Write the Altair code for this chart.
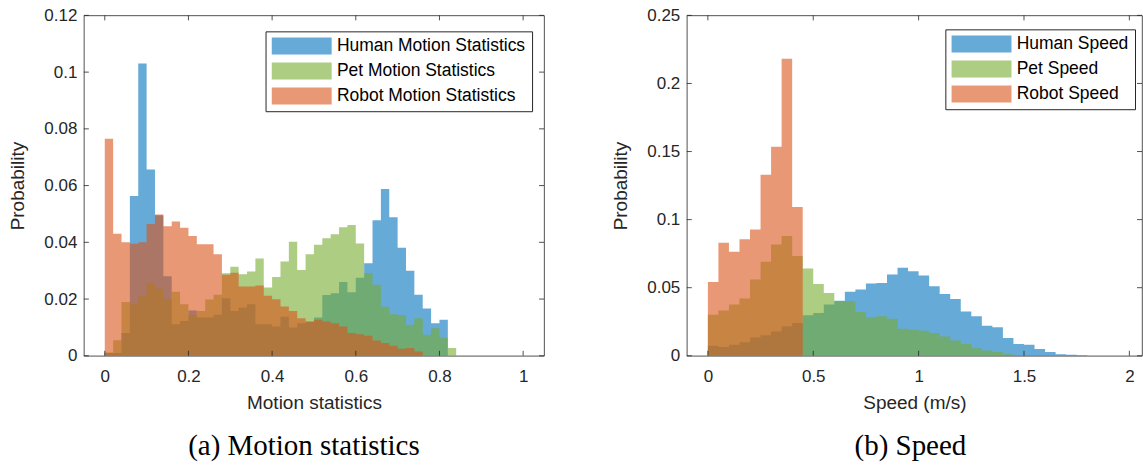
import altair as alt
import pandas as pd

# ---------------- data ----------------
motion_bin_width = 0.02
motion_series = ["Human Motion Statistics", "Pet Motion Statistics", "Robot Motion Statistics"]
motion_human = [0.001, 0.001, 0.008, 0.0563, 0.103, 0.0657, 0.0495, 0.028, 0.0111, 0.0123,
                0.016, 0.0135, 0.0135, 0.0145, 0.0203, 0.0158, 0.017, 0.0182, 0.0111, 0.0111,
                0.0103, 0.0138, 0.0100, 0.0115, 0.012, 0.0135, 0.0214, 0.022, 0.026, 0.0224,
                0.0275, 0.0326, 0.0478, 0.0588, 0.0488, 0.0381, 0.030, 0.0215, 0.0167, 0.0115,
                0.0127, 0.0]
motion_pet = [0.0012, 0.0055, 0.019, 0.0182, 0.021, 0.0257, 0.0236, 0.0199, 0.0226, 0.0182,
              0.0143, 0.0158, 0.0198, 0.0215, 0.0291, 0.0314, 0.0287, 0.0297, 0.0343, 0.0241,
              0.0278, 0.0332, 0.0402, 0.0302, 0.0358, 0.0391, 0.0414, 0.0428, 0.0453, 0.0461,
              0.0396, 0.0291, 0.025, 0.0173, 0.0146, 0.0144, 0.0109, 0.0132, 0.0074, 0.0097,
              0.0064, 0.0027]
motion_robot = [0.0765, 0.043, 0.040, 0.0395, 0.040, 0.0465, 0.0498, 0.0457, 0.0473, 0.0451,
                0.0422, 0.0393, 0.0393, 0.0358, 0.0286, 0.0293, 0.0244, 0.0244, 0.0248, 0.0212,
                0.0199, 0.0174, 0.0158, 0.0132, 0.0121, 0.0127, 0.0121, 0.0115, 0.0103, 0.0080,
                0.0076, 0.0071, 0.0054, 0.0045, 0.0035, 0.0025, 0.0027, 0.0015, 0.0, 0.0,
                0.0, 0.0]

speed_bin_width = 0.05
speed_series = ["Human Speed", "Pet Speed", "Robot Speed"]
speed_human = [0.0074, 0.0064, 0.0081, 0.010, 0.0135, 0.015, 0.0179, 0.0216, 0.024, 0.0297,
               0.0314, 0.0376, 0.0405, 0.047, 0.0486, 0.053, 0.0535, 0.0597, 0.0646, 0.0621,
               0.059, 0.051, 0.0454, 0.0417, 0.0326, 0.029, 0.0221, 0.0209, 0.013, 0.0086,
               0.0081, 0.0049, 0.0027, 0.0012, 0.0007, 0.0003]
speed_pet = [0.0302, 0.0332, 0.0376, 0.042, 0.056, 0.069, 0.0818, 0.0879, 0.0732, 0.0641,
             0.0528, 0.0461, 0.0400, 0.0400, 0.0321, 0.0282, 0.029, 0.0272, 0.0199, 0.0192,
             0.0184, 0.0167, 0.0142, 0.0113, 0.0086, 0.0056, 0.0039, 0.0027, 0.0012, 0.0005,
             0.0003, 0.0, 0.0, 0.0, 0.0, 0.0]
speed_robot = [0.0542, 0.083, 0.0764, 0.0855, 0.0928, 0.1329, 0.1535, 0.2181, 0.1093, 0.0,
               0.0, 0.0, 0.0, 0.0, 0.0, 0.0, 0.0, 0.0, 0.0, 0.0,
               0.0, 0.0, 0.0, 0.0, 0.0, 0.0, 0.0, 0.0, 0.0, 0.0,
               0.0, 0.0, 0.0, 0.0, 0.0, 0.0]

motion_xticks = [0, 0.2, 0.4, 0.6, 0.8, 1]
motion_yticks = [0, 0.02, 0.04, 0.06, 0.08, 0.1, 0.12]
speed_xticks = [0, 0.5, 1, 1.5, 2]
speed_yticks = [0, 0.05, 0.1, 0.15, 0.2, 0.25]

colors = ["#0072BD", "#77AC30", "#D95319"]
AXIS = "#262626"
FONT = "Liberation Sans"


def hist_frame(names, lists, width):
    rows = []
    for name, vals in zip(names, lists):
        for k, v in enumerate(vals):
            rows.append({"series": name, "x": k * width, "p": v})
        rows.append({"series": name, "x": len(vals) * width, "p": vals[-1]})
    return pd.DataFrame(rows)


def panel(df, names, xdom, ydom, xticks, yticks, W, H, xtitle, caption, lx, ly, cdx):
    xs = alt.Scale(domain=xdom, nice=False, zero=False)
    ys = alt.Scale(domain=ydom, nice=False, zero=False)
    area = alt.Chart(df).mark_area(interpolate="step-after", opacity=0.6).encode(
        x=alt.X("x:Q", scale=xs, axis=alt.Axis(values=xticks, title=xtitle, format="~g")),
        y=alt.Y("p:Q", scale=ys, stack=None,
                axis=alt.Axis(values=yticks, title="Probability", format="~g")),
        color=alt.Color("series:N", scale=alt.Scale(domain=names, range=colors),
                        legend=alt.Legend(title=None, orient="none", legendX=lx, legendY=ly)),
    )
    xt = pd.DataFrame({"x": xticks})
    yt = pd.DataFrame({"p": yticks})
    tb = alt.Chart(xt).mark_rule(color=AXIS, strokeWidth=0.8).encode(
        x=alt.X("x:Q", scale=xs), y=alt.value(H), y2=alt.value(H - 5))
    tt = alt.Chart(xt).mark_rule(color=AXIS, strokeWidth=0.8).encode(
        x=alt.X("x:Q", scale=xs), y=alt.value(0), y2=alt.value(5))
    tl = alt.Chart(yt).mark_rule(color=AXIS, strokeWidth=0.8).encode(
        y=alt.Y("p:Q", scale=ys), x=alt.value(0), x2=alt.value(5))
    tr = alt.Chart(yt).mark_rule(color=AXIS, strokeWidth=0.8).encode(
        y=alt.Y("p:Q", scale=ys), x=alt.value(W), x2=alt.value(W - 5))
    return alt.layer(area, tb, tt, tl, tr).properties(
        width=W, height=H,
        title=alt.TitleParams(caption, orient="bottom", font="Liberation Serif", fontSize=29,
                              fontWeight="normal", color="black", offset=19, anchor="middle",
                              dx=cdx),
    )


motion_df = hist_frame(motion_series, [motion_human, motion_pet, motion_robot], motion_bin_width)
speed_df = hist_frame(speed_series, [speed_human, speed_pet, speed_robot], speed_bin_width)

left = panel(motion_df, motion_series, [-0.05, 1.05], [0, 0.12], motion_xticks, motion_yticks,
             461, 341, "Motion statistics", "(a) Motion statistics", 182, 16, -10)
right = panel(speed_df, speed_series, [-0.1, 2.06], [0, 0.25], speed_xticks, speed_yticks,
              456, 341, "Speed (m/s)", "(b) Speed", 259, 14, -4)

chart = alt.hconcat(left, right, spacing=66).resolve_scale(color="independent").properties(
    padding={"left": 8, "top": 5, "right": 0, "bottom": 0}
).configure_view(
    stroke=AXIS, strokeWidth=0.8
).configure_axis(
    domain=False, ticks=False, grid=False,
    labelFont=FONT, labelFontSize=17, labelColor=AXIS,
    titleFont=FONT, titleFontSize=19, titleFontWeight="normal", titleColor=AXIS,
).configure_axisX(
    labelPadding=13, titlePadding=9,
).configure_axisY(
    labelPadding=7, titlePadding=16,
).configure_legend(
    strokeColor=AXIS, fillColor="white", padding=6, cornerRadius=0,
    labelFont=FONT, labelFontSize=17.5, labelColor="black", labelLimit=400,
    symbolType="M-3.53,-1H3.53V1H-3.53Z", symbolSize=289, symbolOffset=21.5,
    labelOffset=26.5, symbolOpacity=0.6, symbolStrokeWidth=0, rowPadding=6,
)

chart.save("out.html", embed_options={"renderer": "svg", "actions": False})
